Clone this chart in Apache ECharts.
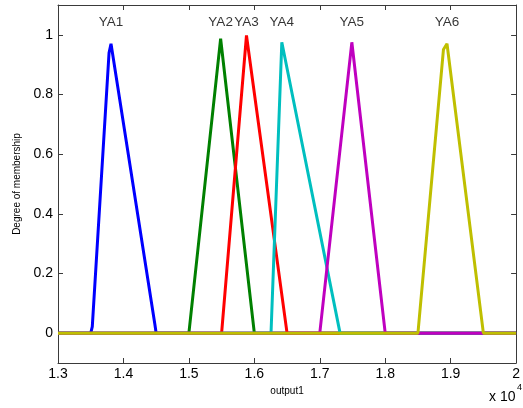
<!DOCTYPE html>
<html>
<head>
<meta charset="utf-8">
<script src="https://cdn.jsdelivr.net/npm/echarts@6/dist/echarts.min.js"></script>
<style>html,body{margin:0;padding:0;background:#fff;}#c{width:523px;height:408px;}</style>
</head>
<body>
<div id="c"></div>
<script>
// x values in raw units (axis shows them as x 10^4)
const names = ['YA1','YA2','YA3','YA4','YA5','YA6'];
const colors = ['#0000ff','#008000','#ff0000','#00bfbf','#bf00bf','#bfbf00'];
const YA1 = [[13000,0],[13500,0],[13524,0.022],[13780,0.94],[13810,0.97],[14480,0.03],[14500,0],[20000,0]];
const YA2 = [[13000,0],[15000,0],[15485,0.987],[16000,0],[20000,0]];
const YA3 = [[13000,0],[15500,0],[15880,0.998],[16500,0],[20000,0]];
const YA4 = [[13000,0],[16255,0],[16420,0.975],[17310,0],[20000,0]];
const YA5 = [[13000,0],[17000,0],[17490,0.975],[18000,0],[20000,0]];
const YA6 = [[13000,0],[18500,0],[18890,0.951],[18944,0.97],[19500,0],[20000,0]];
const seriesData = [YA1,YA2,YA3,YA4,YA5,YA6];
const labelPos = [[13810,1.042],[15485,1.042],[15880,1.042],[16420,1.042],[17490,1.042],[18944,1.042]];
const yTicks = [0,0.2,0.4,0.6,0.8,1];

const FONT = 'Liberation Sans, Arial, sans-serif';
const axisCol = '#3a3a3a';
const tickCol = '#3a3a3a';
const chart = echarts.init(document.getElementById('c'), null, {renderer:'canvas'});
const series = seriesData.map((d,i)=>({
  type:'line', data:d, symbol:'none', silent:true,
  lineStyle:{color:colors[i], width:3}, z:2+i
}));
series.push({
  type:'scatter', symbolSize:0, silent:true,
  data: labelPos.map((p,i)=>({value:p, name:names[i]})),
  label:{show:true, position:'inside', formatter:'{b}', color:'#000', fontSize:13.5, fontFamily:FONT}
});
const lineCfg = () => ({show:true, onZero:false, lineStyle:{color:axisCol, width:1}});
const tickCfg = (extra) => Object.assign({show:true, inside:true, length:5, lineStyle:{color:tickCol, width:1}}, extra||{});
chart.setOption({
  animation:false,
  grid:{left:58, right:4, top:5, bottom:45},
  xAxis:[{
    type:'value', min:13000, max:20000, interval:1000, position:'bottom',
    axisLine:lineCfg(), axisTick:tickCfg(),
    axisLabel:{color:'#000', fontSize:14, fontFamily:FONT, margin:4,
      formatter:v=>String(+(v/10000).toFixed(1))},
    splitLine:{show:false},
    name:'output1', nameLocation:'middle', nameGap:16,
    nameTextStyle:{color:'#000', fontSize:10, fontFamily:FONT}
  },{
    type:'value', min:13000, max:20000, interval:1000, position:'top',
    axisLine:lineCfg(), axisTick:tickCfg(),
    axisLabel:{show:false}, splitLine:{show:false}
  }],
  yAxis:[{
    type:'value', min:-0.1, max:1.1, position:'left',
    axisLine:lineCfg(), axisTick:tickCfg({customValues:yTicks}),
    axisLabel:{color:'#000', fontSize:14, fontFamily:FONT, margin:5, customValues:yTicks,
      formatter:v=>String(+v.toFixed(1))},
    splitLine:{show:false},
    name:'Degree of membership', nameLocation:'middle', nameGap:24, nameRotate:90,
    nameTextStyle:{color:'#000', fontSize:10, fontFamily:FONT}
  },{
    type:'value', min:-0.1, max:1.1, position:'right',
    axisLine:lineCfg(), axisTick:tickCfg({customValues:yTicks}),
    axisLabel:{show:false}, splitLine:{show:false}
  }],
  series:series,
  graphic:[
    {type:'text', left:489, top:390, style:{text:'x 10', fill:'#000', font:'14px '+FONT}},
    {type:'text', left:517, top:383, style:{text:'4', fill:'#000', font:'9px '+FONT}}
  ]
});
</script>
</body>
</html>
